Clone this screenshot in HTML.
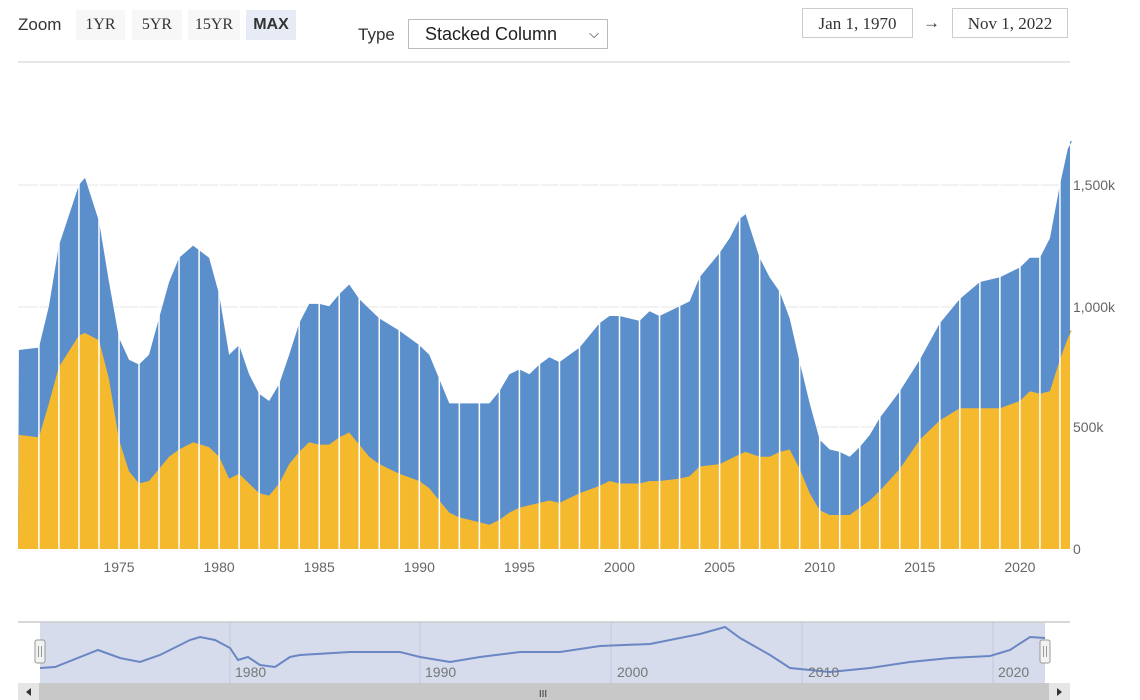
<!DOCTYPE html><html><head><meta charset="utf-8"><style>
body{margin:0;width:1140px;height:700px;background:#fff;font-family:"Liberation Sans",sans-serif;overflow:hidden;position:relative}
.t{position:absolute;font-size:17px;color:#333}
.b{position:absolute;top:10px;height:30px;line-height:30px;font-size:16px;color:#333;background:#f7f7f7;text-align:center;font-family:"Liberation Serif",serif}
.d{position:absolute;top:8px;height:30px;border:1px solid #ccc;font-family:"Liberation Serif",serif;font-size:17px;line-height:30px;color:#333;text-align:center;box-sizing:border-box}
</style></head><body>
<div class="t" style="left:18px;top:15px">Zoom</div>
<div class="b" style="left:76px;width:49px">1YR</div>
<div class="b" style="left:132px;width:50px">5YR</div>
<div class="b" style="left:188px;width:52px">15YR</div>
<div class="b" style="left:246px;width:50px;background:#e6ebf5;font-weight:bold;font-family:'Liberation Sans',sans-serif">MAX</div>
<div class="t" style="left:358px;top:25px">Type</div>
<div style="position:absolute;left:408px;top:19px;width:200px;height:30px;border:1px solid #bbb;box-sizing:border-box;font-size:18px;line-height:28px;padding-left:16px;color:#222">Stacked Column <span style="position:absolute;right:8px;font-size:13px">&#x2335;</span></div>
<div class="d" style="left:802px;width:111px">Jan 1, 1970</div>
<div class="t" style="left:923px;top:13px">&#8594;</div>
<div class="d" style="left:952px;width:116px">Nov 1, 2022</div>
<svg id="s" width="1140" height="700" style="position:absolute;left:0;top:0"></svg>
<script>
var T=[[1970,820,470],[1971,830,460],[1971.5,1000,600],[1972,1250,750],[1973,1500,880],[1973.3,1530,890],[1974,1350,860],[1974.5,1100,700],[1975,870,450],[1975.5,780,320],[1976,760,270],[1976.5,800,280],[1977,950,330],[1977.5,1100,380],[1978,1200,410],[1978.7,1250,440],[1979.5,1200,420],[1980,1050,380],[1980.5,800,290],[1981,840,310],[1981.5,720,270],[1982,640,230],[1982.5,610,220],[1983,680,270],[1983.5,800,350],[1984,930,400],[1984.5,1010,440],[1985,1010,430],[1985.5,1000,430],[1986,1050,460],[1986.5,1090,480],[1987,1030,430],[1987.5,990,380],[1988,950,350],[1989,900,310],[1990,840,280],[1990.5,800,250],[1991,700,200],[1991.5,600,150],[1992,600,130],[1993,600,110],[1993.5,600,100],[1994,650,120],[1994.5,720,150],[1995,740,170],[1995.5,720,180],[1996,760,190],[1996.5,790,200],[1997,770,190],[1998,830,230],[1999,930,260],[1999.5,960,280],[2000,960,270],[2001,940,270],[2001.5,980,280],[2002,960,280],[2003,1000,290],[2003.5,1020,300],[2004,1120,340],[2005,1220,350],[2005.5,1280,370],[2006,1360,390],[2006.3,1380,400],[2007,1200,380],[2007.5,1120,380],[2008,1060,400],[2008.5,950,410],[2009,770,330],[2009.5,600,230],[2010,450,160],[2010.5,410,140],[2011,400,140],[2011.5,380,140],[2012,420,170],[2012.5,470,200],[2013,540,240],[2014,650,330],[2015,780,450],[2016,930,530],[2017,1030,580],[2018,1100,580],[2019,1120,580],[2020,1160,610],[2020.5,1200,650],[2021,1200,640],[2021.5,1280,650],[2022,1500,780],[2022.4,1650,870],[2022.6,1680,900]];
function X(y){return 18.9+(y-1970)*20.02}function Y(v){return 549-v*0.2427}
var h='';[185,307,427].forEach(function(y){h+='<line x1="18" x2="1070" y1="'+y+'" y2="'+y+'" stroke="#e6e6e6"/>'});
h+='<line x1="18" x2="1070" y1="62" y2="62" stroke="#e6e6e6" stroke-width="2"/>';
var b='M18,549',o='M18,549';T.forEach(function(p){b+=' L'+X(p[0]).toFixed(1)+','+Y(p[1]).toFixed(1);o+=' L'+X(p[0]).toFixed(1)+','+Y(p[2]).toFixed(1)});
b+=' L1070,'+Y(1680)+' L1070,549Z';o+=' L1070,'+Y(900)+' L1070,549Z';
h+='<path d="'+b+'" fill="#5b8fcc"/><path d="'+o+'" fill="#f5b92e"/>';
for(var y=1971;y<=2022;y++)h+='<line x1="'+X(y)+'" x2="'+X(y)+'" y1="100" y2="549" stroke="#fff" stroke-width="1.5"/>';
[1975,1980,1985,1990,1995,2000,2005,2010,2015,2020].forEach(function(y){h+='<text x="'+X(y)+'" y="572" font-size="14" fill="#666" text-anchor="middle">'+y+'</text>'});
[[185,'1,500k'],[307,'1,000k'],[427,'500k'],[549,'0']].forEach(function(a){h+='<text x="1073" y="'+(a[0]+5)+'" font-size="14" fill="#666">'+a[1]+'</text>'});
h+='<rect x="40" y="622" width="1005" height="61" fill="#d6dcec"/><line x1="18" x2="1070" y1="622" y2="622" stroke="#ccc" stroke-width="1.5"/>';
[230,420,611,802,993].forEach(function(x){h+='<line x1="'+x+'" x2="'+x+'" y1="622" y2="683" stroke="#c4c9d8"/>'});
var N=[[40,668],[55,667],[98,650],[120,658],[140,662],[160,655],[190,640],[200,637],[215,640],[230,648],[238,660],[248,657],[260,665],[275,667],[290,657],[300,655],[350,652],[400,652],[420,657],[450,662],[480,657],[520,652],[560,652],[600,646],[650,644],[700,634],[725,627],[740,638],[770,655],[790,668],[830,672],[870,668],[910,662],[950,658],[990,656],[1010,650],[1030,637],[1045,638]];
h+='<polyline fill="none" stroke="#6a87c4" stroke-width="2" points="'+N.map(function(p){return p.join(',')}).join(' ')+'"/>';
[[1980,255],[1990,445],[2000,637],[2010,828],[2020,1018]].forEach(function(a){h+='<text x="'+(a[1]-20)+'" y="677" font-size="14" fill="#777">'+a[0]+'</text>'});
[40,1045].forEach(function(x){h+='<rect x="'+(x-5)+'" y="640" width="10" height="23" fill="#f2f2f2" stroke="#999" rx="2"/><line x1="'+(x-1.5)+'" x2="'+(x-1.5)+'" y1="646" y2="657" stroke="#999"/><line x1="'+(x+1.5)+'" x2="'+(x+1.5)+'" y1="646" y2="657" stroke="#999"/>'});
h+='<rect x="18" y="683" width="1052" height="17" fill="#c8c8c8"/><rect x="18" y="683" width="21" height="17" fill="#e6e6e6"/><rect x="1049" y="683" width="21" height="17" fill="#e6e6e6"/><path d="M31,688 l-5,4 5,4Z M1057,688 l5,4 -5,4Z" fill="#333"/><text x="543" y="697" font-size="10" fill="#333" text-anchor="middle">III</text>';
document.getElementById('s').innerHTML=h;
</script></body></html>
